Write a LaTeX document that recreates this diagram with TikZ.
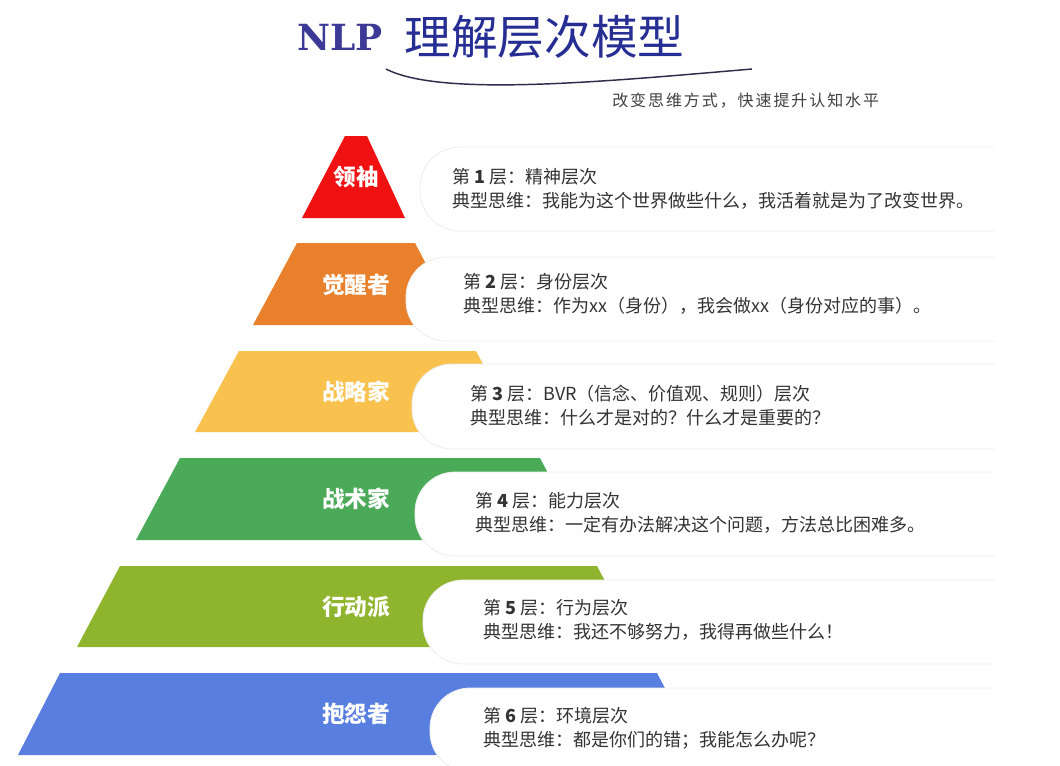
\documentclass[tikz,border=0pt]{standalone}
\usepackage{xcolor}
\usepackage{fontspec}
\setmainfont{Noto Sans CJK SC}
\newfontfamily\headfont{DejaVu Serif}
\newfontfamily\subfont{Noto Sans CJK SC}[LetterSpace=12]
\usepackage{tikz}
\usetikzlibrary{positioning}

\definecolor{lvlred}{RGB}{240,18,18}
\definecolor{lvlorange}{RGB}{233,128,44}
\definecolor{lvlyellow}{RGB}{249,193,78}
\definecolor{lvlgreen}{RGB}{75,170,88}
\definecolor{lvllime}{RGB}{142,181,45}
\definecolor{lvlblue}{RGB}{88,126,224}
\definecolor{nlpblue}{RGB}{60,58,150}
\definecolor{titleblue}{RGB}{38,46,148}
\definecolor{swoosh}{RGB}{45,45,75}

\begin{document}
\begin{tikzpicture}[
  x=0.75pt, y=-0.75pt,
  card/.style={fill=white, draw=black!7, line width=0.6pt, rounded corners=30pt},
  lvl/.style={text=white, font=\fontsize{17}{20}\selectfont\bfseries},
  desc/.style={anchor=west, align=left, text=black!80, inner sep=0pt,
               font=\fontsize{13.5}{18}\selectfont}
]
\useasboundingbox (0,0) rectangle (1060,765);

\node[anchor=west, inner sep=0pt, text=nlpblue,
      font=\headfont\fontsize{27}{30}\selectfont\bfseries] (nlp) at (297,37) {NLP};
\node[right=16pt of nlp, inner sep=0pt, text=titleblue,
      font=\fontsize{35}{40}\selectfont] (title) {理解层次模型};
\draw[swoosh, line width=1.1pt] (386,69) .. controls (440,97) and (600,82) .. (752,69);
\node[anchor=west, inner sep=0pt, text=black!75,
      font=\subfont\fontsize{12}{14}\selectfont] (sub) at (612,101) {改变思维方式，快速提升认知水平};

% layer 1
\fill[lvlred] (345,136) -- (367,136) -- (405,218) -- (302,218) -- cycle;
\draw[card] (995,147) -- (420,147) -- (420,231) -- (995,231);
\node[lvl] (l1) at (356,177) {领袖};
\node[desc] (d1) at (452,189) {第 \textbf{1} 层：精神层次\\
  典型思维：我能为这个世界做些什么，我活着就是为了改变世界。};

% layer 2
\fill[lvlorange] (297,243) -- (415,243) -- (458,325) -- (253,325) -- cycle;
\draw[card] (995,257) -- (406,257) -- (406,341) -- (995,341);
\node[lvl] (l2) at (356,285) {觉醒者};
\node[desc] (d2) at (463,294) {第 \textbf{2} 层：身份层次\\
  典型思维：作为xx（身份），我会做xx（身份对应的事）。};

% layer 3
\fill[lvlyellow] (239,351) -- (476,351) -- (519,432) -- (195,432) -- cycle;
\draw[card] (995,364) -- (412,364) -- (412,449) -- (995,449);
\node[lvl] (l3) at (356,392) {战略家};
\node[desc] (d3) at (470,406) {第 \textbf{3} 层：BVR（信念、价值观、规则）层次\\
  典型思维：什么才是对的？什么才是重要的？};

% layer 4
\fill[lvlgreen] (180,458) -- (540,458) -- (583,540) -- (136,540) -- cycle;
\draw[card] (995,472) -- (415,472) -- (415,556) -- (995,556);
\node[lvl] (l4) at (356,499) {战术家};
\node[desc] (d4) at (475,513) {第 \textbf{4} 层：能力层次\\
  典型思维：一定有办法解决这个问题，方法总比困难多。};

% layer 5
\fill[lvllime] (120,566) -- (597,566) -- (640,647) -- (77,647) -- cycle;
\draw[card] (995,580) -- (423,580) -- (423,664) -- (995,664);
\node[lvl] (l5) at (356,607) {行动派};
\node[desc] (d5) at (483,620) {第 \textbf{5} 层：行为层次\\
  典型思维：我还不够努力，我得再做些什么！};

% layer 6
\fill[lvlblue] (60,673) -- (657,673) -- (700,755) -- (18,755) -- cycle;
\draw[card] (995,688) -- (430,688) -- (430,772) -- (995,772);
\node[lvl] (l6) at (356,714) {抱怨者};
\node[desc] (d6) at (483,728) {第 \textbf{6} 层：环境层次\\
  典型思维：都是你们的错；我能怎么办呢？};
\end{tikzpicture}
\end{document}
